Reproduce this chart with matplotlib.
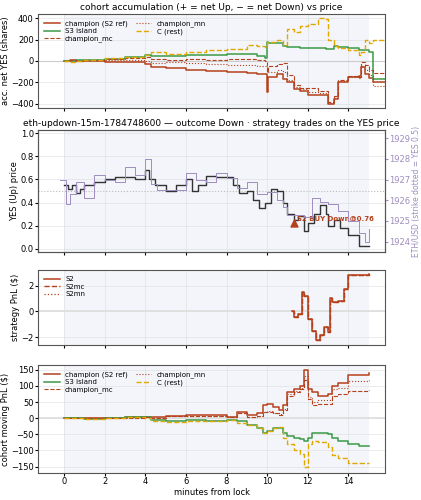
import matplotlib
matplotlib.use("Agg")
import matplotlib.pyplot as plt
import numpy as np

C_RED = "#b5401c"; C_GRN = "#3a9a48"; C_YEL = "#e0a800"; C_PUR = "#a08cc0"

# ---- panel 1: accumulation (t, value) ----
acc_t = [0, 0.3, 0.6, 1, 2, 3, 4, 4.3, 5, 6, 7, 8, 9, 9.5, 9.9, 10, 10.05, 10.5, 10.8, 11, 11.3, 11.6, 12, 12.5, 12.9, 13.0, 13.3, 13.5, 14, 14.5, 14.6, 14.8, 15.0, 15.2, 15.8]
champ_acc = [0, 10, 0, 0, -5, -10, -30, -60, -70, -80, -90, -100, -110, -120, -120, -290, -150, -120, -170, -200, -260, -280, -320, -320, -320, -400, -360, -200, -150, -140, -60, -120, -160, -200, -200]
mc_acc = [0, 5, 0, 10, 20, 30, 40, 20, 10, 15, 10, 20, 20, 10, 0, -100, -50, -30, -20, -130, -220, -250, -250, -280, -280, -380, -330, -180, -140, -150, -10, -40, -80, -110, -110]
mn_acc = [0, 5, 0, 5, 10, 10, 0, -20, -10, -20, -30, -40, -40, -50, -50, -100, -100, -80, -100, -180, -240, -260, -290, -300, -300, -390, -350, -190, -150, -160, -50, -80, -130, -230, -230]
s3_acc = [0, 0, 5, 10, 20, 40, 60, 50, 50, 55, 60, 70, 70, 50, 30, 180, 170, 170, 140, 130, 130, 125, 120, 120, 115, 110, 140, 130, 120, 100, 100, 100, 80, -170, -170]
c_acc = [0, -10, 0, 10, 30, 40, 60, 80, 70, 80, 100, 110, 150, 140, 130, 180, 180, 200, 150, 300, 270, 330, 350, 400, 390, 200, 140, 120, 100, 60, 80, 200, 170, 200, 200]

# ---- panel 2: YES price and ETH ----
yes_t = [0, 0.2, 0.4, 0.6, 0.8, 1, 1.5, 2, 2.5, 3, 3.5, 4, 4.2, 4.5, 5, 5.5, 6, 6.3, 6.6, 7, 7.5, 8, 8.3, 8.6, 9, 9.3, 9.6, 9.9, 10.2, 10.5, 10.8, 11, 11.3, 11.5, 11.8, 12, 12.3, 12.6, 12.9, 13, 13.3, 13.6, 14, 14.5, 15]
yes_p = [0.55, 0.52, 0.55, 0.48, 0.52, 0.55, 0.58, 0.6, 0.62, 0.62, 0.6, 0.68, 0.6, 0.55, 0.5, 0.55, 0.6, 0.5, 0.55, 0.63, 0.62, 0.62, 0.55, 0.48, 0.5, 0.42, 0.35, 0.4, 0.52, 0.5, 0.4, 0.3, 0.25, 0.28, 0.15, 0.22, 0.3, 0.38, 0.3, 0.2, 0.25, 0.18, 0.12, 0.02, 0.02]
eth_t = [-0.2, 0.1, 0.3, 0.6, 1, 1.5, 2, 2.5, 3, 3.5, 4, 4.3, 4.6, 5, 5.5, 6, 6.5, 7, 7.5, 8, 8.5, 9, 9.5, 10, 10.5, 10.8, 11, 11.5, 11.8, 12.2, 12.6, 13, 13.5, 14, 14.5, 14.8, 15.0]
eth_v = [1927.0, 1925.8, 1926.3, 1926.9, 1926.1, 1927.2, 1927.0, 1926.9, 1927.6, 1927.2, 1928.0, 1926.8, 1926.5, 1926.5, 1926.5, 1927.3, 1927.0, 1926.9, 1927.3, 1927.1, 1926.6, 1926.9, 1926.3, 1926.4, 1926.0, 1925.7, 1925.3, 1925.3, 1925.2, 1926.1, 1925.9, 1925.8, 1925.5, 1925.0, 1924.4, 1924.0, 1924.6]

# ---- panel 3: strategy PnL ----
s2_t = [11.2, 11.3, 11.5, 11.7, 11.8, 12.0, 12.2, 12.4, 12.6, 12.8, 13.0, 13.1, 13.2, 13.5, 13.8, 14.0, 15.0]
s2_pnl = [0.0, -0.4, -0.2, 1.5, 1.2, -0.6, -1.5, -2.2, -1.8, -1.2, -1.6, 1.0, 0.7, 0.8, 1.7, 2.8, 2.9]

# ---- panel 4: cohort PnL ----
pnl_t = [0, 1, 2, 3, 4, 4.3, 5, 6, 7, 8, 8.5, 9, 9.5, 9.8, 10, 10.3, 10.6, 10.8, 11, 11.3, 11.6, 11.8, 12.0, 12.2, 12.5, 13, 13.2, 13.5, 14, 14.5, 15]
champ_pnl = [0, 0, 2, 3, 5, 3, 8, 10, 10, 5, 20, 10, 15, 40, 45, 35, 25, 40, 80, 90, 100, 150, 90, 80, 70, 75, 100, 110, 135, 135, 140]
mc_pnl = [0, 0, 1, 2, 4, 2, 6, 8, 7, 3, 15, 5, 8, 20, 20, 15, 10, 25, 70, 80, 90, 120, 60, 40, 45, 45, 70, 75, 85, 85, 88]
mn_pnl = [0, 0, 1, 2, 4, 2, 6, 8, 7, 3, 15, 5, 8, 20, 22, 15, 12, 30, 75, 85, 95, 130, 65, 50, 55, 55, 90, 95, 115, 115, 120]
s3_pnl = [0, -2, 2, 4, 3, -5, -10, -5, -8, -5, -10, -20, -30, -45, -40, -30, -30, -45, -55, -60, -65, -70, -60, -45, -45, -50, -60, -70, -80, -85, -85]
c_pnl = [0, -2, 1, 3, 2, -8, -12, -8, -10, -5, -15, -20, -30, -45, -40, -30, -28, -60, -80, -100, -110, -150, -80, -70, -75, -90, -115, -125, -140, -140, -140]

fig = plt.figure(figsize=(4.21, 5), dpi=100)
fs = 6
plt.rcParams.update({"font.size": fs, "axes.edgecolor": "#555555"})
L, W = 38/421, 347/421
def mk(top, bot):
    return fig.add_axes([L, 1-bot/500, W, (bot-top)/500])
ax1 = mk(14, 108); ax2 = mk(130, 252); ax3 = mk(270, 345); ax4 = mk(365, 473)
for ax in (ax1, ax2, ax3, ax4):
    ax.set_xlim(-1.28, 15.8)
    ax.axvspan(0, 15, color="#eef1f8", alpha=0.7, lw=0)
    ax.grid(True, color="#dddddd", lw=0.4)
    ax.tick_params(labelsize=fs, length=2, pad=1)
    ax.set_xticks(range(0, 15, 2))
    if ax is not ax4:
        ax.tick_params(labelbottom=False)

def st(ax, t, v, **kw):
    ax.plot(t, v, drawstyle="steps-post", **kw)

ax1.axhline(0, color="#cccccc", lw=0.8)
st(ax1, acc_t, champ_acc, color=C_RED, lw=1.1, label="champion (S2 ref)")
st(ax1, acc_t, s3_acc, color=C_GRN, lw=1.1, label="S3 island")
st(ax1, acc_t, mc_acc, color=C_RED, lw=0.8, ls="--", label="champion_mc")
st(ax1, acc_t, mn_acc, color=C_RED, lw=0.8, ls=":", label="champion_mn")
st(ax1, acc_t, c_acc, color=C_YEL, lw=1.0, ls="--", label="C (rest)")
ax1.set_ylim(-440, 440); ax1.set_yticks([-400, -200, 0, 200, 400])
ax1.set_ylabel("acc. net YES (shares)", fontsize=fs, labelpad=1)
ax1.set_title("cohort accumulation (+ = net Up, \u2212 = net Down) vs price", fontsize=fs+0.5, pad=3)
ax1.legend(ncol=2, fontsize=5, frameon=False, loc="upper left", handlelength=2.2, labelspacing=0.2, columnspacing=1.2)

ax2.axhline(0.5, color="#bbbbbb", lw=0.8, ls=":")
st(ax2, yes_t, yes_p, color="#333333", lw=1.0)
ax2.set_ylim(-0.03, 1.03); ax2.set_yticks(np.arange(0, 1.01, 0.2))
ax2.set_ylabel("YES (Up) price", fontsize=fs, labelpad=1)
ax2.set_title("eth-updown-15m-1784748600 \u2014 outcome Down \u00b7 strategy trades on the YES price", fontsize=fs+0.5, pad=3)
ax2.scatter([11.3], [0.22], marker="^", color=C_RED, s=25, zorder=5)
ax2.text(11.45, 0.25, "S2 BUY Down@0.76", color=C_RED, fontsize=5, fontweight="bold")
ax2b = ax2.twinx()
st(ax2b, eth_t, eth_v, color=C_PUR, lw=0.7)
ax2b.set_ylim(1923.5, 1929.4)
ax2b.set_yticks(range(1924, 1930))
ax2b.tick_params(labelsize=fs, colors=C_PUR, length=2, pad=1)
ax2b.set_ylabel("ETH/USD (strike dotted = YES 0.5)", fontsize=fs-0.5, color=C_PUR, labelpad=1)

ax3.axhline(0, color="#dddddd", lw=1.2)
st(ax3, s2_t, s2_pnl, color=C_RED, lw=1.1, label="S2")
st(ax3, s2_t, s2_pnl, color=C_RED, lw=1.0, ls="--", label="S2mc")
st(ax3, s2_t, s2_pnl, color=C_RED, lw=0.9, ls=":", label="S2mn")
ax3.set_ylim(-2.6, 3.2); ax3.set_yticks([-2, 0, 2])
ax3.set_ylabel("strategy PnL ($)", fontsize=fs, labelpad=1)
ax3.legend(fontsize=5, frameon=False, loc="upper left", handlelength=2.2, labelspacing=0.2)

ax4.axhline(0, color="#dddddd", lw=1.2)
st(ax4, pnl_t, champ_pnl, color=C_RED, lw=1.1, label="champion (S2 ref)")
st(ax4, pnl_t, s3_pnl, color=C_GRN, lw=1.1, label="S3 island")
st(ax4, pnl_t, mc_pnl, color=C_RED, lw=0.8, ls="--", label="champion_mc")
st(ax4, pnl_t, mn_pnl, color=C_RED, lw=0.8, ls=":", label="champion_mn")
st(ax4, pnl_t, c_pnl, color=C_YEL, lw=1.0, ls="--", label="C (rest)")
ax4.set_ylim(-170, 165); ax4.set_yticks([-150, -100, -50, 0, 50, 100, 150])
ax4.set_ylabel("cohort moving PnL ($)", fontsize=fs, labelpad=1)
ax4.set_xlabel("minutes from lock", fontsize=fs, labelpad=1)
ax4.legend(ncol=2, fontsize=5, frameon=False, loc="upper left", handlelength=2.2, labelspacing=0.2, columnspacing=1.2)

fig.savefig("out.png", dpi=100)
